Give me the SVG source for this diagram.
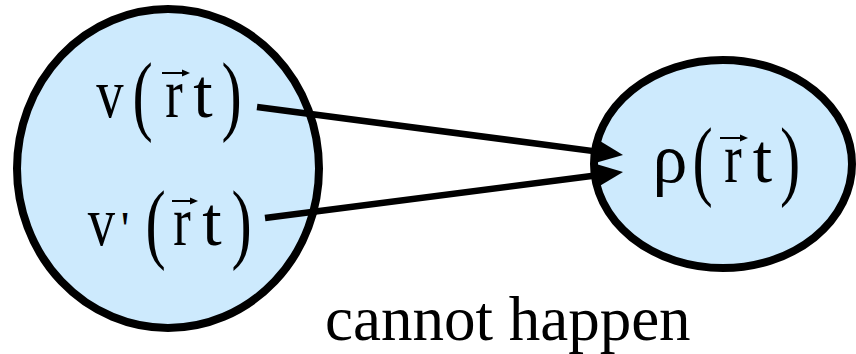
<svg xmlns="http://www.w3.org/2000/svg" width="856" height="354" viewBox="0 0 856 354">
<style>
.node{fill:#cdeafd;stroke:#000;stroke-width:8}
.t{font-family:"Liberation Serif","Times New Roman",serif;font-size:70px;fill:#000;text-anchor:middle}
.p{font-family:"Liberation Serif","Times New Roman",serif;font-size:64px;fill:#000;text-anchor:middle}
.edge{stroke:#000;stroke-width:6.5;fill:none;marker-end:url(#ah)}
.vec{stroke:#000;stroke-width:2;fill:none}
</style>
<defs>
<marker id="ah" markerUnits="userSpaceOnUse" markerWidth="30" markerHeight="26" refX="3" refY="11" orient="auto">
<path d="M0,0 L25,11 L0,22 z" fill="#000"/>
</marker>
<path id="va" d="M0,0 L-8,-3.5 L-8,3.5 z"/>
</defs>
<g id="node-v">
<ellipse class="node" cx="168" cy="168.5" rx="151" ry="159.5"/>
<text class="t" transform="translate(110,117) scale(0.78,1)">v</text>
<text class="p" transform="translate(142.5,124) scale(0.95,1.4)">(</text>
<text class="t" transform="translate(174,117) scale(0.75,1)">r</text>
<line class="vec" x1="162" y1="73" x2="184" y2="73"/>
<use href="#va" x="190" y="73"/>
<text class="t" x="203" y="117">t</text>
<text class="p" transform="translate(231.5,124) scale(0.95,1.4)">)</text>
<text class="t" transform="translate(101.5,245) scale(0.78,1)">v</text>
<text class="t" x="125" y="245" style="font-size:48px">'</text>
<text class="p" transform="translate(155.5,252) scale(0.95,1.4)">(</text>
<text class="t" transform="translate(182,245) scale(0.75,1)">r</text>
<line class="vec" x1="172" y1="201" x2="192" y2="201"/>
<use href="#va" x="198" y="201"/>
<text class="t" x="212" y="245">t</text>
<text class="p" transform="translate(241.5,252) scale(0.95,1.4)">)</text>
</g>
<g id="node-rho">
<ellipse class="node" cx="723" cy="164" rx="129" ry="104"/>
<text class="t" x="670" y="182">ρ</text>
<text class="p" transform="translate(702.5,189) scale(0.95,1.4)">(</text>
<text class="t" transform="translate(733,182) scale(0.75,1)">r</text>
<line class="vec" x1="720" y1="138" x2="742" y2="138"/>
<use href="#va" x="748" y="138"/>
<text class="t" x="762.5" y="182">t</text>
<text class="p" transform="translate(790,189) scale(0.95,1.4)">)</text>
</g>
<g id="connectors">
<line class="edge" x1="257" y1="107" x2="601.2" y2="152.1"/>
<line class="edge" x1="265" y1="218" x2="601.2" y2="174.8"/>
</g>
<text id="caption" x="325" y="340" style="font-family:'Liberation Serif','Times New Roman',serif;font-size:63px;fill:#000">cannot happen</text>
</svg>
